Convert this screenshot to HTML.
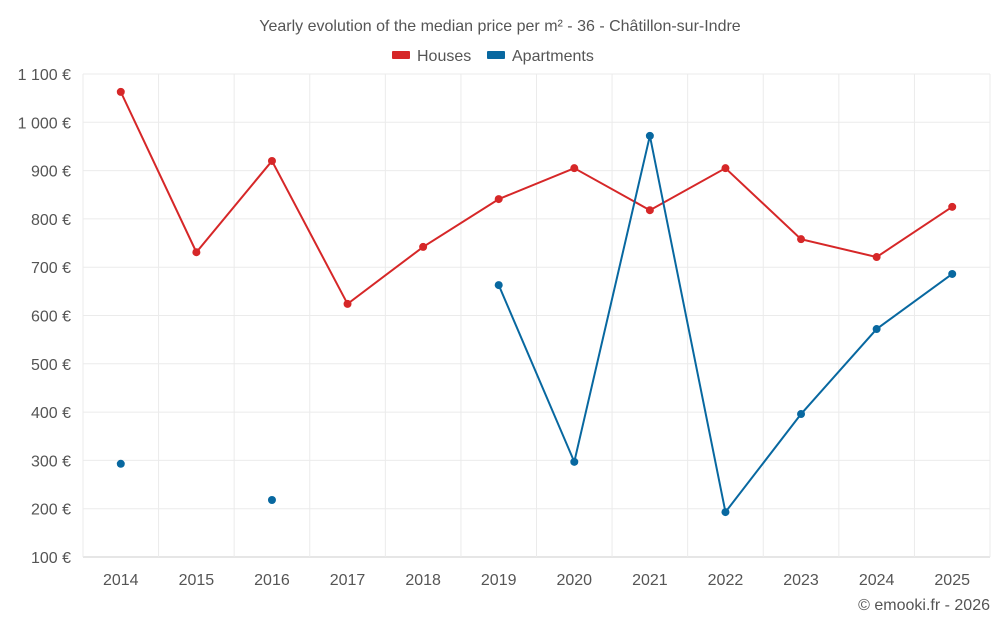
<!DOCTYPE html>
<html><head><meta charset="utf-8"><style>
body{margin:0;background:#fff;font-family:"Liberation Sans",sans-serif}
svg text{font-family:"Liberation Sans",sans-serif;fill:#555}
</style></head><body>
<svg id="c" width="1000" height="625"></svg>
<script>
const years=[2014,2015,2016,2017,2018,2019,2020,2021,2022,2023,2024,2025];
const houses=[1063,731,920,624,742,841,905,818,905,758,721,825];
const apartments=[293,null,218,null,null,663,297,972,193,396,572,686];
const yTicks=[100,200,300,400,500,600,700,800,900,1000,1100];
const yTickLabels=["100 €","200 €","300 €","400 €","500 €","600 €","700 €","800 €","900 €","1 000 €","1 100 €"];
const L=83,R=990,T=74,B=557,ymin=100,ymax=1100;
const bw=(R-L)/years.length;
const X=i=>L+bw*(i+0.5);
const Y=v=>B-(v-ymin)/(ymax-ymin)*(B-T);
const svg=document.getElementById('c');
const NS='http://www.w3.org/2000/svg';
function mk(t,a,p){const e=document.createElementNS(NS,t);for(const k in a)e.setAttribute(k,a[k]);(p||svg).appendChild(e);return e;}
let t=mk('text',{x:500,y:31,'text-anchor':'middle','font-size':16});t.textContent='Yearly evolution of the median price per m² - 36 - Châtillon-sur-Indre';


// legend
let lg=mk('g',{});


mk('rect',{x:392,y:51,width:18,height:8,fill:'#d62728',rx:1},lg);
t=mk('text',{x:417,y:61,'font-size':16},lg);t.textContent='Houses';
lg=mk('g',{});


mk('rect',{x:487,y:51,width:18,height:8,fill:'#0868a0',rx:1},lg);
t=mk('text',{x:512,y:61,'font-size':16},lg);t.textContent='Apartments';
// grid
yTicks.forEach((v,i)=>{
 const l=mk('line',{x1:L,x2:R,y1:Y(v),y2:Y(v),stroke:i==0?'#ccc':'#ebebeb'});
 
 
 const tx=mk('text',{x:71,y:Y(v)+6,'text-anchor':'end','font-size':16});tx.textContent=yTickLabels[i];
 
 
});
for(let i=0;i<=years.length;i++){
 const l=mk('line',{x1:L+bw*i,x2:L+bw*i,y1:T,y2:B+(i==0||i==years.length?0:0),stroke:'#ebebeb'});
 
 
}
years.forEach((y,i)=>{
 const tx=mk('text',{x:X(i),y:585,'text-anchor':'middle','font-size':16});tx.textContent=y;
 
 
});
function series(vals,col,name){
 let d='',pen=false;
 vals.forEach((v,i)=>{if(v==null){pen=false;return;}d+=(pen?'L':'M')+X(i)+' '+Y(v);pen=true;});
 const p=mk('path',{d:d,fill:'none',stroke:col,'stroke-width':2});
 
 
 vals.forEach((v,i)=>{if(v==null)return;
  const c=mk('circle',{cx:X(i),cy:Y(v),r:4,fill:col});
  
  
 });
}
series(houses,'#d62728','houses');
series(apartments,'#0868a0','apartments');
t=mk('text',{x:990,y:610,'text-anchor':'end','font-size':16});t.textContent='© emooki.fr - 2026';


</script>
</body></html>
